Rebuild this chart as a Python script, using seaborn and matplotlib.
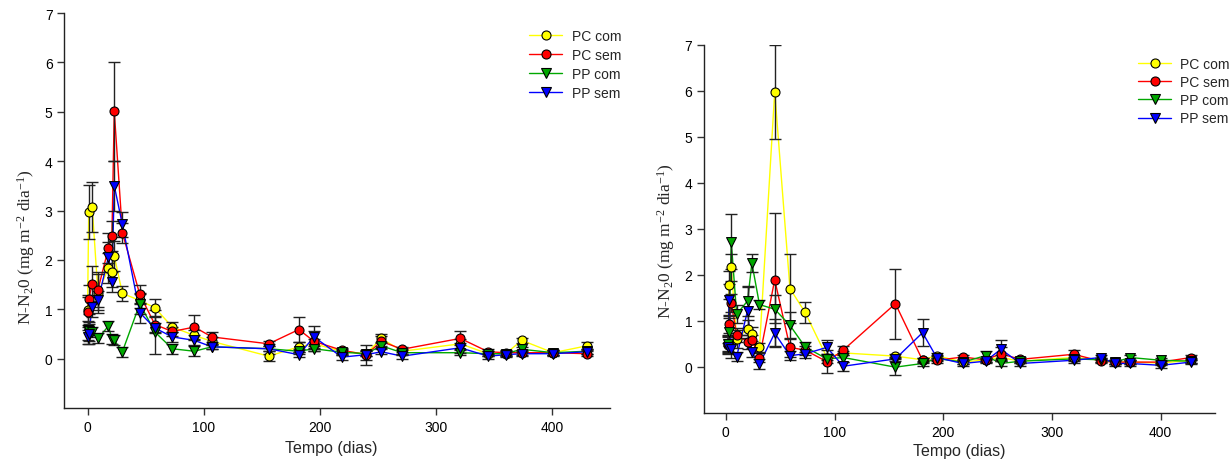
import numpy as np
import pandas as pd
import matplotlib
matplotlib.use("Agg")
import matplotlib.pyplot as plt
from matplotlib.lines import Line2D
import seaborn as sns

# ---------------- data ----------------
series_names = ["PC com", "PC sem", "PP com", "PP sem"]

# Left panel
days_left = [0, 1, 4, 9, 18, 21, 23, 30, 45, 58, 73, 92, 107, 156, 182, 195,
             219, 240, 253, 271, 321, 345, 360, 374, 401, 430]
left_pc_com = [0.98, 2.97, 3.07, 1.32, 1.84, 1.76, 2.08, 1.32, 1.18, 1.03, 0.64, 0.47, 0.35,
               0.05, 0.24, 0.30, 0.15, 0.10, 0.41, 0.15, 0.30, 0.10, 0.10, 0.37, 0.12, 0.26]
left_pc_sem = [0.95, 1.20, 1.52, 1.40, 2.24, 2.49, 5.01, 2.55, 1.30, 0.69, 0.55, 0.64, 0.44,
               0.30, 0.59, 0.35, 0.17, 0.08, 0.35, 0.19, 0.41, 0.14, 0.12, 0.12, 0.12, 0.10]
left_pp_com = [0.57, 0.55, 0.54, 0.41, 0.66, 0.40, 0.37, 0.14, 1.11, 0.54, 0.20, 0.15, 0.24,
               0.20, 0.15, 0.20, 0.13, 0.10, 0.26, 0.12, 0.12, 0.10, 0.10, 0.19, 0.12, 0.15]
left_pp_sem = [0.44, 0.50, 1.05, 1.18, 2.06, 1.55, 3.50, 2.72, 0.93, 0.62, 0.44, 0.37, 0.24,
               0.20, 0.08, 0.44, 0.03, 0.08, 0.14, 0.05, 0.22, 0.05, 0.08, 0.10, 0.10, 0.14]
left_pc_com_err = [0.30, 0.55, 0.50, 0.40, 0.30, 0.30, 0.30, 0.15, 0.15, 0.17, 0.10, 0.10, 0.08,
                   0.10, 0.10, 0.10, 0.05, 0.05, 0.08, 0.05, 0.10, 0.05, 0.05, 0.05, 0.05, 0.08]
left_pc_sem_err = [0.30, 0.30, 0.35, 0.35, 0.30, 0.30, 1.00, 0.20, 0.20, 0.15, 0.10, 0.24, 0.10,
                   0.05, 0.26, 0.20, 0.05, 0.10, 0.10, 0.05, 0.14, 0.05, 0.05, 0.05, 0.05, 0.05]
left_pp_com_err = [0.20, 0.20, 0.10, 0.10, 0.10, 0.10, 0.10, 0.10, 0.20, 0.44, 0.10, 0.10, 0.05,
                   0.05, 0.05, 0.05, 0.05, 0.05, 0.05, 0.05, 0.05, 0.05, 0.05, 0.05, 0.05, 0.05]
left_pp_sem_err = [0.15, 0.20, 0.20, 0.20, 0.30, 0.20, 0.50, 0.25, 0.20, 0.10, 0.10, 0.10, 0.05,
                   0.10, 0.05, 0.23, 0.05, 0.20, 0.05, 0.05, 0.10, 0.05, 0.05, 0.05, 0.05, 0.05]

# Right panel
days_right = [2, 3, 5, 10, 20, 24, 31, 45, 59, 73, 93, 108, 156, 181, 194, 218,
              239, 253, 271, 320, 345, 358, 372, 400, 428]
right_pc_com = [0.47, 1.78, 2.16, 0.60, 0.82, 0.71, 0.42, 5.98, 1.70, 1.18, 0.20, 0.30, 0.23,
                0.15, 0.24, 0.10, 0.15, 0.20, 0.12, 0.20, 0.15, 0.10, 0.10, 0.08, 0.14]
right_pc_sem = [0.50, 0.93, 1.38, 0.69, 0.54, 0.59, 0.20, 1.89, 0.42, 0.36, 0.11, 0.36, 1.37,
                0.14, 0.14, 0.21, 0.15, 0.28, 0.16, 0.27, 0.12, 0.10, 0.10, 0.10, 0.20]
right_pp_com = [0.50, 0.76, 2.72, 1.14, 1.43, 2.25, 1.35, 1.25, 0.90, 0.43, 0.17, 0.20, -0.01,
                0.07, 0.18, 0.10, 0.24, 0.07, 0.12, 0.17, 0.15, 0.10, 0.20, 0.14, 0.12]
right_pp_sem = [0.42, 1.45, 0.38, 0.22, 1.22, 0.31, 0.06, 0.73, 0.24, 0.28, 0.42, 0.01, 0.17,
                0.74, 0.20, 0.07, 0.12, 0.38, 0.07, 0.14, 0.20, 0.07, 0.07, 0.03, 0.10]
right_pc_com_err = [0.20, 0.30, 0.30, 0.20, 0.20, 0.15, 0.10, 1.02, 0.76, 0.23, 0.05, 0.05, 0.05,
                    0.05, 0.05, 0.05, 0.05, 0.05, 0.05, 0.05, 0.05, 0.05, 0.05, 0.05, 0.05]
right_pc_sem_err = [0.20, 0.20, 0.20, 0.15, 0.15, 0.10, 0.10, 1.45, 0.20, 0.10, 0.25, 0.10, 0.76,
                    0.05, 0.05, 0.05, 0.05, 0.15, 0.05, 0.10, 0.05, 0.05, 0.05, 0.05, 0.05]
right_pp_com_err = [0.15, 0.30, 0.60, 0.20, 0.33, 0.20, 0.10, 0.30, 0.30, 0.10, 0.10, 0.10, 0.18,
                    0.05, 0.05, 0.05, 0.10, 0.05, 0.05, 0.05, 0.05, 0.05, 0.05, 0.05, 0.05]
right_pp_sem_err = [0.10, 0.35, 0.20, 0.10, 0.52, 0.10, 0.10, 0.30, 0.10, 0.10, 0.15, 0.10, 0.05,
                    0.30, 0.05, 0.05, 0.05, 0.21, 0.05, 0.05, 0.05, 0.05, 0.05, 0.05, 0.05]

x_ticks = [0, 100, 200, 300, 400]
y_ticks = [0, 1, 2, 3, 4, 5, 6, 7]
x_label = "Tempo (dias)"
y_label = r"N-N$_2$0 (mg m$^{-2}$ dia$^{-1}$)"

# ---------------- style ----------------
colors = {"PC com": "#FFFF00", "PC sem": "#FF0000", "PP com": "#00A800", "PP sem": "#0000FF"}
markers = {"PC com": "o", "PC sem": "o", "PP com": "v", "PP sem": "v"}
msizes = {"PC com": 42, "PC sem": 42, "PP com": 50, "PP sem": 50}

sns.set_style("ticks")
plt.rcParams["font.family"] = ["Liberation Sans", "DejaVu Sans"]
plt.rcParams["mathtext.fontset"] = "custom"
plt.rcParams["mathtext.rm"] = "Liberation Serif"
plt.rcParams["mathtext.it"] = "Liberation Serif:italic"
plt.rcParams["mathtext.default"] = "rm"


def make_df(days, vals, errs):
    frames = []
    for name, v, e in zip(series_names, vals, errs):
        frames.append(pd.DataFrame({"dia": days, "valor": v, "erro": e, "serie": name}))
    return pd.concat(frames, ignore_index=True)


df_left = make_df(days_left,
                  [left_pc_com, left_pc_sem, left_pp_com, left_pp_sem],
                  [left_pc_com_err, left_pc_sem_err, left_pp_com_err, left_pp_sem_err])
df_right = make_df(days_right,
                   [right_pc_com, right_pc_sem, right_pp_com, right_pp_sem],
                   [right_pc_com_err, right_pc_sem_err, right_pp_com_err, right_pp_sem_err])

fig = plt.figure(figsize=(12.3, 4.64), dpi=100)
ax1 = fig.add_axes([0.0523, 0.1185, 0.4437, 0.8513])
ax2 = fig.add_axes([0.5724, 0.1084, 0.4154, 0.7931])


def draw(ax, df):
    sns.lineplot(data=df, x="dia", y="valor", hue="serie", palette=colors,
                 hue_order=series_names, estimator=None, sort=True, lw=1.0,
                 legend=False, ax=ax, zorder=1)
    for name in series_names:
        d = df[df["serie"] == name]
        ax.errorbar(d["dia"], d["valor"], yerr=d["erro"], fmt="none",
                    ecolor="#222222", elinewidth=1.0, capsize=4.5, capthick=1.0,
                    zorder=2)
    for name in series_names:
        d = df[df["serie"] == name]
        sns.scatterplot(data=d, x="dia", y="valor", color=colors[name],
                        marker=markers[name], s=msizes[name], edgecolor="black",
                        linewidth=0.8, legend=False, ax=ax, zorder=3)
    ax.set_xlim(-20, 450)
    ax.set_ylim(-1, 7)
    ax.set_xticks(x_ticks)
    ax.set_yticks(y_ticks)
    ax.tick_params(direction="out", length=5, width=1, labelsize=10,
                   colors="#333333", labelcolor="black")
    sns.despine(ax=ax)
    for s in ["left", "bottom"]:
        ax.spines[s].set_color("#222222")
        ax.spines[s].set_linewidth(1.0)
    ax.set_xlabel(x_label, fontsize=11.5)
    ax.set_ylabel(y_label, fontsize=12.5, family=["Liberation Serif", "DejaVu Serif"])


draw(ax1, df_left)
draw(ax2, df_right)

ax1.xaxis.set_label_coords(0.49, -0.082)
ax2.xaxis.set_label_coords(0.50, -0.082)
ax1.yaxis.set_label_coords(-0.05, 0.41)
ax2.yaxis.set_label_coords(-0.052, 0.47)

handles = [Line2D([0], [0], color=colors[n], lw=1.0, marker=markers[n],
                  markerfacecolor=colors[n], markeredgecolor="black",
                  markeredgewidth=0.8, markersize=6.5 if markers[n] == "o" else 7)
           for n in series_names]

ax1.legend(handles, series_names, loc="upper left", bbox_to_anchor=(0.4243, 0.9497),
           bbox_transform=fig.transFigure, frameon=False, fontsize=10,
           handlelength=2.4, handletextpad=0.7, labelspacing=0.36, borderpad=0)
ax2.legend(handles, series_names, loc="upper left", bbox_to_anchor=(0.9195, 0.890),
           bbox_transform=fig.transFigure, frameon=False, fontsize=10,
           handlelength=2.4, handletextpad=0.6, labelspacing=0.3, borderpad=0)

fig.savefig("out.png", dpi=100)
